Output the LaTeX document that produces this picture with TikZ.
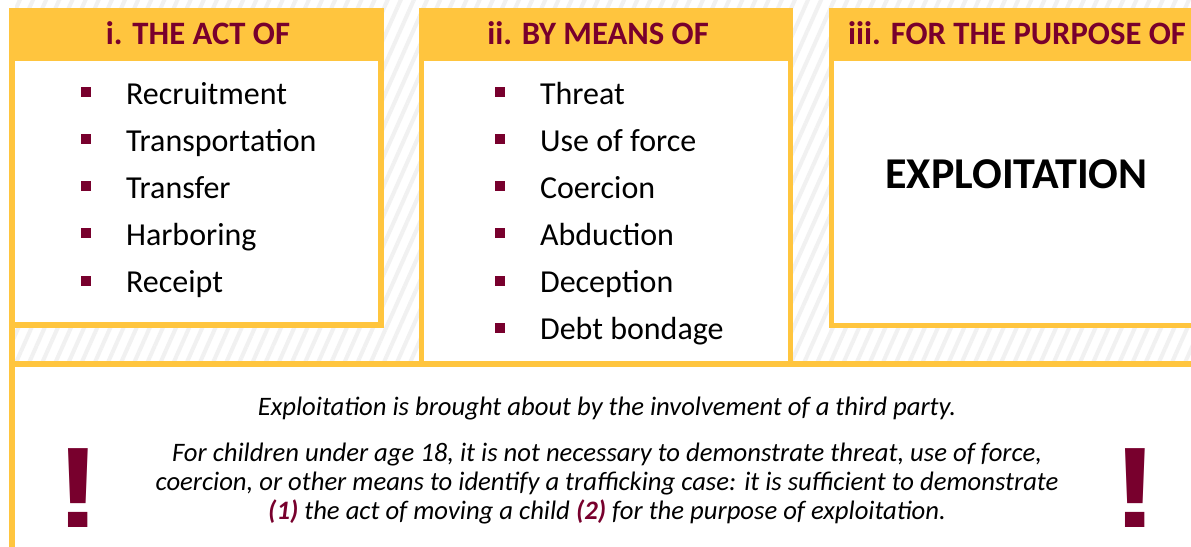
\documentclass[tikz,border=0pt]{standalone}
\usepackage{fontspec}
\setmainfont{Carlito}
\newfontfamily\bangfont{Liberation Sans}
\usetikzlibrary{positioning,patterns.meta}
\definecolor{tkYellow}{RGB}{255,197,62}
\definecolor{tkMaroon}{RGB}{120,0,45}
\definecolor{tkHatch}{RGB}{241,241,241}
\newcommand{\sqbul}{\textcolor{tkMaroon}{\rule[5.2pt]{7.1pt}{7.5pt}}\hspace{26.5pt}}

\begin{document}
\begin{tikzpicture}[x=0.75pt, y=-0.75pt,
        head/.style={font=\fontsize{24.5}{29}\selectfont\bfseries, text=tkMaroon, anchor=base, inner sep=0pt},
        item/.style={font=\fontsize{24}{29}\selectfont, anchor=base west, inner sep=0pt, text height=18pt, text depth=5pt},
        note/.style={font=\fontsize{20}{21.75}\selectfont\itshape, align=center, inner sep=0pt},
        bang/.style={font=\fontsize{86}{86}\selectfont\bangfont\bfseries, text=tkMaroon, anchor=base, inner sep=0pt, text depth=0pt},
        frame/.style={draw=tkYellow, line width=4.5pt}
    ]
        \useasboundingbox (0,0) rectangle (1191,546);
        \clip (0,0) rectangle (1191,546);

        % hatched backdrop
        \fill[white] (0,0) rectangle (1191,546);
        \fill[pattern={Lines[angle=66, distance=9pt, line width=3pt]}, pattern color=tkHatch] (15,0) rectangle (1191,361);

        % lower panel outline
        \draw[frame] (12,20) -- (12,560);
        \draw[frame] (12,363.5) -- (1200,363.5);

        % the three columns
        \fill[tkYellow] (9,8) rectangle (384,328);
        \fill[white] (15,61) rectangle (378,322);
        \fill[tkYellow] (419,8) rectangle (793,366);
        \fill[white] (424,61) rectangle (788,361);
        \fill[tkYellow] (829,8) rectangle (1200,328);
        \fill[white] (834,61) rectangle (1200,323);

        \node [head] (actHead) at (198,44) {i. THE ACT OF};
        \node [head] (meansHead) at (598,44) {ii. BY MEANS OF};
        \node [head] (purposeHead) at (1017,44) {iii. FOR THE PURPOSE OF};

        \node [item] (recruit) at (81,104) {\sqbul Recruitment};
        \node [item, below=11.95pt of recruit.south west, anchor=north west] (transport) {\sqbul Transportation};
        \node [item, below=11.95pt of transport.south west, anchor=north west] (transfer) {\sqbul Transfer};
        \node [item, below=11.95pt of transfer.south west, anchor=north west] (harbor) {\sqbul Harboring};
        \node [item, below=11.95pt of harbor.south west, anchor=north west] (receipt) {\sqbul Receipt};

        \node [item] (threat) at (495,104) {\sqbul Threat};
        \node [item, below=11.95pt of threat.south west, anchor=north west] (force) {\sqbul Use of force};
        \node [item, below=11.95pt of force.south west, anchor=north west] (coerce) {\sqbul Coercion};
        \node [item, below=11.95pt of coerce.south west, anchor=north west] (abduct) {\sqbul Abduction};
        \node [item, below=11.95pt of abduct.south west, anchor=north west] (deceive) {\sqbul Deception};
        \node [item, below=11.95pt of deceive.south west, anchor=north west] (debt) {\sqbul Debt bondage};

        \node [font=\fontsize{33}{38}\selectfont\bfseries, anchor=base, inner sep=0pt] (exploit) at (1016.5,188) {EXPLOITATION};

        % note panel
        \node [note, anchor=base] (thirdParty) at (607,415) {Exploitation is brought about by the involvement of a third party.};
        \node [note, anchor=north] (children) at (607,443) {For children under age 18, it is not necessary to demonstrate threat, use of force,\\
            coercion, or other means to identify a trafficking case: it is sufficient to demonstrate\\
            \textcolor{tkMaroon}{\textbf{(1)}} the act of moving a child \textcolor{tkMaroon}{\textbf{(2)}} for the purpose of exploitation.};

        \node [bang] (bangLeft) at (78.5,527) {\scalebox{1.2}[1]{!}};
        \node [bang] (bangRight) at (1135,527) {\scalebox{1.2}[1]{!}};

    \end{tikzpicture}
\end{document}
